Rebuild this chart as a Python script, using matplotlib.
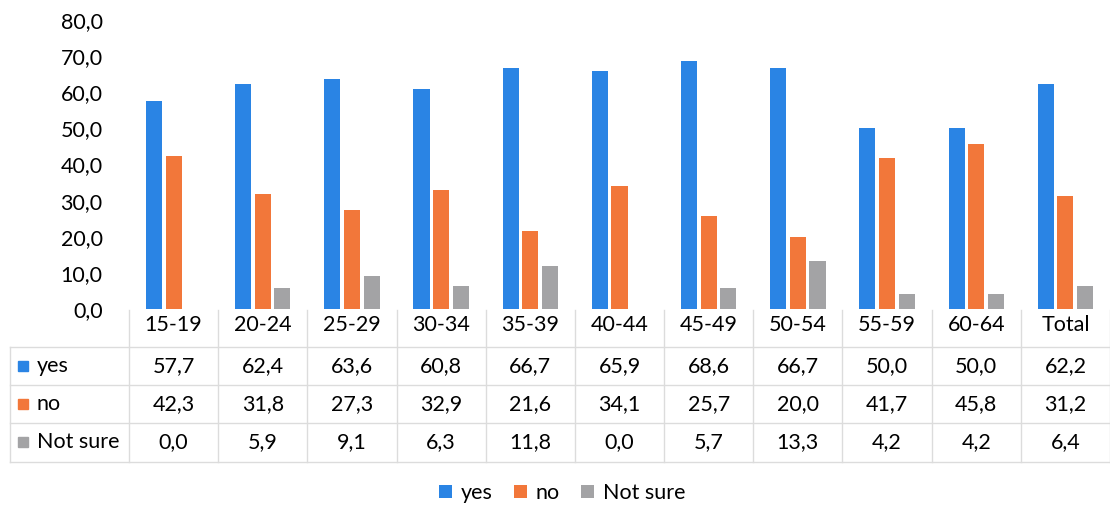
import matplotlib
matplotlib.use('Agg')
import matplotlib.pyplot as plt
from matplotlib import transforms
from matplotlib.lines import Line2D
from matplotlib.patches import Rectangle
import numpy as np

# 연령대별 응답 비율 (%)
groups = ['15-19', '20-24', '25-29', '30-34', '35-39', '40-44',
          '45-49', '50-54', '55-59', '60-64', 'Total']
yes = [57.7, 62.4, 63.6, 60.8, 66.7, 65.9, 68.6, 66.7, 50.0, 50.0, 62.2]
no = [42.3, 31.8, 27.3, 32.9, 21.6, 34.1, 25.7, 20.0, 41.7, 45.8, 31.2]
not_sure = [0.0, 5.9, 9.1, 6.3, 11.8, 0.0, 5.7, 13.3, 4.2, 4.2, 6.4]
series_names = ['yes', 'no', 'Not sure']
series = [yes, no, not_sure]
colors = ['#2a84e4', '#f2773a', '#a3a3a5']

W, H = 1110, 509
plt.rcParams['font.family'] = ['Lato', 'DejaVu Sans']
fig = plt.figure(figsize=(W / 100, H / 100), dpi=100)

def fx(px):
    return px / W

def fy(py):
    return 1 - py / H

ax = fig.add_axes([fx(129), fy(309), fx(1110) - fx(129), fy(20) - fy(309)])
x = np.arange(len(groups))
offsets = [-0.22, 0.0, 0.22]
bars = []
for vals, off, c, name in zip(series, offsets, colors, series_names):
    b = ax.bar(x + off, vals, width=0.18, color=c, label=name)
    bars.append(b)

ax.set_xlim(-0.5, len(groups) - 0.5)
ax.set_ylim(0, 80)
ax.set_yticks(np.arange(0, 81, 10))
ax.set_yticklabels([f'{v:.1f}'.replace('.', ',') for v in np.arange(0, 81, 10)])
ax.tick_params(axis='y', length=0, pad=19, labelsize=15.5)
ax.tick_params(axis='x', bottom=False, labelbottom=False)
for s in ax.spines.values():
    s.set_visible(False)

# 데이터 테이블
grid_c = '#dcdcdc'
fs = 15.5
tr = transforms.blended_transform_factory(ax.transData, fig.transFigure)
row_lines = [347, 385, 423, 462]
for py in row_lines:
    fig.add_artist(Line2D([fx(10), fx(1110)], [fy(py), fy(py)], color=grid_c, lw=1))
for i in range(len(groups) + 1):
    fig.add_artist(Line2D([i - 0.5, i - 0.5], [fy(310), fy(462)], color=grid_c,
                          lw=1, transform=tr))
fig.add_artist(Line2D([fx(10), fx(10)], [fy(347), fy(462)], color=grid_c, lw=1))

for i, g in enumerate(groups):
    ax.text(i, fy(325), g, transform=tr, ha='center', va='center', fontsize=fs)

row_y = [366, 404, 442]
for vals, py, c, name in zip(series, row_y, colors, series_names):
    for i, v in enumerate(vals):
        ax.text(i, fy(py), f'{v:.1f}'.replace('.', ','), transform=tr,
                ha='center', va='center', fontsize=fs)
    fig.add_artist(Rectangle((fx(18), fy(py) - 5 / H), 10 / W, 10 / H,
                             color=c, transform=fig.transFigure))
    fig.text(fx(37), fy(py), name, ha='left', va='center', fontsize=fs)

fig.legend(handles=bars, labels=series_names, loc='center', ncol=3,
           bbox_to_anchor=(fx(562), fy(493)), frameon=False, fontsize=fs,
           handlelength=0.6, handleheight=0.6, handletextpad=0.4,
           columnspacing=1.0)

fig.savefig('out.png', dpi=100)
